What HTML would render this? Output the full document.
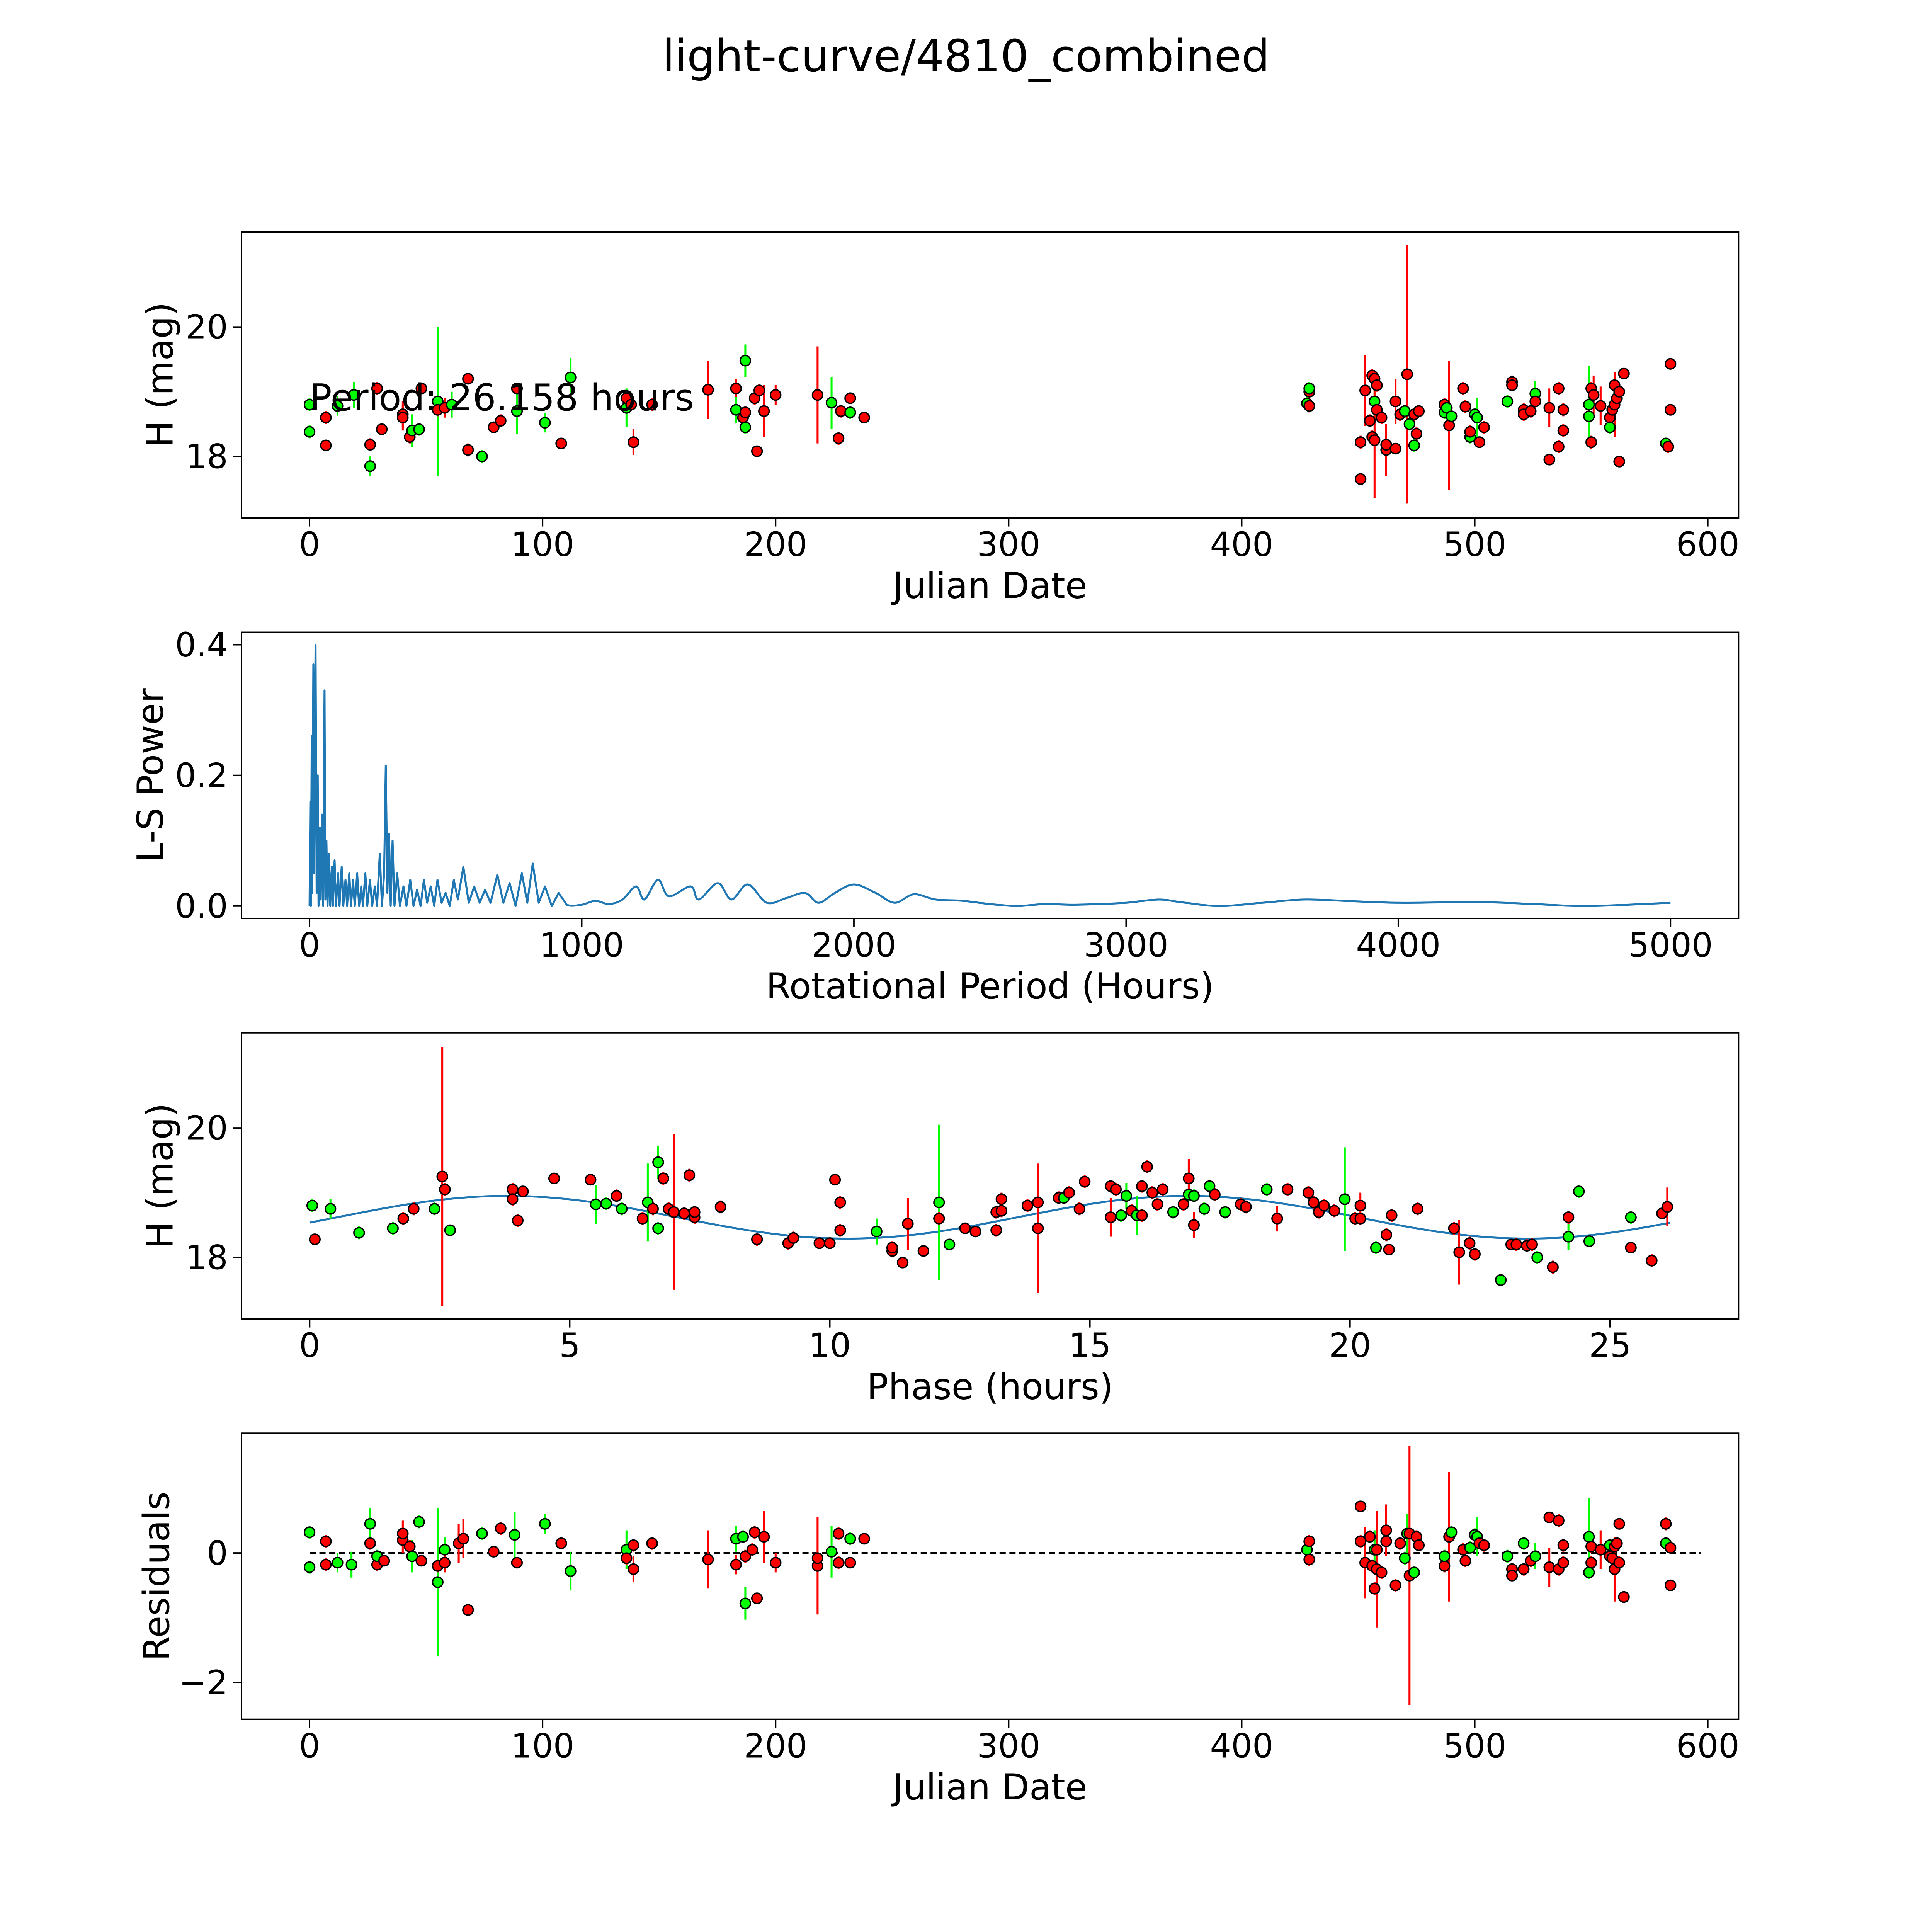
<!DOCTYPE html>
<html><head><meta charset="utf-8"><title>light-curve/4810_combined</title>
<style>html,body{margin:0;padding:0;background:#fff;overflow:hidden;width:100%;height:100%}svg{display:block;width:100vw;height:100vh}text{font-family:"DejaVu Sans","Liberation Sans",sans-serif;fill:#000}</style>
</head><body>
<svg id="fig" xmlns="http://www.w3.org/2000/svg" viewBox="0 0 1568 1568" preserveAspectRatio="xMidYMid meet">
<rect x="0" y="0" width="1568" height="1568" fill="#fff"/>
<text x="784" y="58" font-size="36" text-anchor="middle">light-curve/4810_combined</text>
</svg>
<script>
// ---------- Panel 1: light curve ----------
const lcJD=[0,0,7,7,12,19,26,26,29,31,40,40,43,44,47,48,55,55,58,61,68,68,74,79,82,89,89,101,108,112,136,136,138,139,147,171,183,183,186,187,187,187,191,192,193,195,200,218,224,227,228,232,232,238,
428,429,429,429,451,451,453,455,456,456,457,457,457,458,458,460,462,462,466,466,468,470,471,472,474,474,475,476,487,487,488,489,490,495,496,498,498,500,501,502,504,514,516,516,521,521,524,526,526,532,532,536,536,538,538,549,549,550,550,551,554,558,558,559,560,560,561,562,562,564,582,583,584,584];
const lcMag=[18.80,18.38,18.60,18.17,18.78,18.95,18.18,17.85,19.05,18.42,18.65,18.60,18.30,18.40,18.42,19.05,18.85,18.72,18.75,18.80,19.20,18.10,18.00,18.45,18.55,18.70,19.05,18.52,18.20,19.22,18.75,18.90,18.80,18.22,18.80,19.03,19.05,18.72,18.60,18.68,18.45,19.48,18.90,18.08,19.02,18.70,18.95,18.95,18.83,18.28,18.70,18.90,18.68,18.60,
18.82,19.00,19.05,18.78,17.65,18.22,19.02,18.55,18.30,19.25,18.85,18.25,19.20,19.10,18.72,18.60,18.10,18.18,18.12,18.85,18.65,18.70,19.27,18.50,18.17,18.65,18.35,18.70,18.68,18.80,18.75,18.48,18.62,19.05,18.77,18.30,18.38,18.65,18.60,18.22,18.45,18.85,19.15,19.10,18.72,18.65,18.70,18.97,18.85,17.95,18.75,19.05,18.15,18.72,18.40,18.80,18.62,19.05,18.22,18.95,18.78,18.60,18.45,18.72,18.80,19.10,18.90,19.00,17.92,19.28,18.20,18.15,19.43,18.72];
const lcErr=[.1,.1,.1,.05,.15,.2,.1,.15,.1,.06,.2,.2,.1,.25,.1,.05,1.15,.1,.15,.2,.05,.1,.1,.05,.1,.35,.05,.15,.05,.3,.3,.1,.1,.2,.1,.45,.15,.2,.15,.1,.1,.25,.1,.05,.1,.4,.15,.75,.4,.1,.1,.05,.1,.05,
.1,.1,.1,.1,.05,.1,.55,.1,.1,.1,.3,.9,.1,.1,.1,.1,.4,.05,.05,.35,.1,.1,2.0,.1,.1,.1,.1,.05,.1,.1,.1,1.0,.1,.1,.1,.1,.1,.1,.3,.05,.1,.1,.1,.05,.1,.1,.1,.2,.1,.05,.3,.1,.1,.1,.1,.6,.1,.1,.1,.3,.3,.1,.1,.1,.5,.1,.1,.1,.05,.05,.05,.1,.05,.05];
const lcBand="ggrrggrgrrrrrggrgrrgrrgrrgrgrggrrrrrrgrrggrrrrrrgrrrgr"+"grgrrrrrrrgrrrrrrrrrrgrggrrrgrgrgrrgrggrrgrrrrrgrrrrrrrggrrrrrgrrrrrrrgrrr";
const lcTicksX=[0,100,200,300,400,500,600];
const lcTicksY=[18,20];

// ---------- Panel 2: periodogram ----------
const pgPeriod=[0,3,5,8,10,14,17,22,26,30,33,38,41,46,50,55,58,62,66,72,76,82,86,92,97,105,110,118,124,132,138,146,152,160,166,175,182,190,196,205,212,222,230,240,248,258,266,274,280,286,292,298,305,312,322,332,345,356,370,382,395,408,420,432,445,458,470,485,500,515,530,545,565,585,605,625,645,665,690,712,735,757,780,800,820,842,865,890,915,945,
1000,1050,1100,1150,1200,1230,1280,1320,1400,1430,1500,1550,1610,1680,1750,1820,1870,1930,2000,2080,2150,2220,2300,2400,2500,2600,2700,2800,2900,3000,3120,3200,3340,3500,3650,3800,4000,4300,4500,4700,5000];
const pgPower=[0,.16,0,.26,.02,.37,.05,.40,.02,.2,0,.12,.01,.14,0,.33,.01,.1,0,.08,0,.06,0,.07,0,.05,0,.06,0,.04,0,.05,0,.04,0,.05,0,.03,0,.05,0,.04,0,.03,0,.08,0,.05,.215,.02,.11,0,.1,0,.05,0,.03,0,.04,0,.025,0,.04,.005,.03,0,.04,.005,.02,0,.04,.01,.06,.005,.03,.005,.025,.005,.048,.005,.035,0,.05,.005,.065,.005,.03,0,.02,.002,
.002,.008,.003,.01,.03,.01,.04,.015,.03,.01,.035,.01,.033,.005,.012,.02,.005,.02,.033,.02,.005,.018,.01,.008,.003,0,.003,.002,.003,.005,.01,.006,0,.005,.01,.008,.005,.006,.003,0,.005];
const pgTicksX=[0,1000,2000,3000,4000,5000];
const pgTicksY=[0.0,0.2,0.4];

// ---------- Panel 3: phased ----------
const phPhase=[0.05,0.1,0.4,0.95,1.6,1.8,2.0,2.4,2.55,2.6,2.7,3.9,3.9,4.0,4.1,4.7,5.4,5.5,5.7,5.9,6.0,6.4,6.5,6.6,6.7,6.7,6.8,6.9,7.0,7.2,7.3,7.4,7.4,7.9,8.6,9.2,9.3,9.8,10.0,10.1,10.2,10.2,10.9,11.2,11.2,11.4,11.5,11.8,12.1,12.1,12.3,12.6,12.8,13.2,13.2,13.3,13.3,13.8,14.0,14.0,14.4,14.5,14.6,14.8,14.9,15.4,15.4,15.5,15.6,15.7,15.8,15.9,16.0,16.0,16.1,16.2,16.3,16.4,16.6,16.8,16.9,16.9,17.0,17.0,17.2,17.3,17.4,17.6,17.9,18.0,18.4,18.6,18.8,19.2,19.3,19.4,19.5,19.7,19.9,20.1,20.2,20.2,20.5,20.7,20.75,20.8,21.3,22.0,22.1,22.3,22.4,22.9,23.1,23.2,23.4,23.5,23.6,23.9,24.2,24.2,24.4,24.6,25.4,25.4,25.8,26.0,26.1];
const phMag=[18.8,18.28,18.75,18.38,18.45,18.6,18.75,18.75,19.25,19.05,18.42,19.05,18.9,18.57,19.02,19.22,19.2,18.82,18.83,18.95,18.75,18.6,18.85,18.75,19.47,18.45,19.22,18.75,18.7,18.68,19.27,18.62,18.7,18.78,18.28,18.22,18.3,18.22,18.22,19.2,18.85,18.42,18.4,18.1,18.15,17.92,18.52,18.1,18.85,18.6,18.2,18.45,18.4,18.7,18.42,18.9,18.72,18.8,18.85,18.45,18.92,18.92,19.0,18.75,19.17,19.1,18.62,19.05,18.65,18.95,18.72,18.65,19.1,18.65,19.4,19.0,18.82,19.05,18.7,18.82,18.97,19.22,18.5,18.95,18.75,19.1,18.97,18.7,18.82,18.78,19.05,18.6,19.05,19.0,18.85,18.7,18.8,18.72,18.9,18.6,18.6,18.8,18.15,18.35,18.12,18.65,18.75,18.45,18.08,18.22,18.05,17.65,18.2,18.2,18.18,18.2,18.0,17.85,18.62,18.32,19.02,18.25,18.62,18.15,17.95,18.68,18.78];
const phErr=[.1,.05,.15,.1,.1,.1,.1,.1,2.0,.1,.05,.1,.1,.1,.05,.05,.05,.3,.1,.1,.1,.1,.6,.1,.25,.1,.1,.1,1.2,.1,.1,.1,.1,.1,.1,.1,.1,.05,.05,.05,.1,.1,.2,.1,.1,.05,.4,.05,1.2,.1,.05,.05,.05,.1,.1,.1,.1,.1,.1,1.0,.1,.1,.1,.1,.1,.1,.3,.1,.1,.2,.1,.3,.1,.1,.1,.1,.1,.1,.1,.1,.1,.3,.2,.1,.1,.1,.1,.1,.1,.1,.1,.2,.1,.1,.1,.1,.1,.1,.8,.1,.1,.2,.1,.1,.05,.1,.1,.1,.5,.1,.1,.05,.05,.1,.1,.1,.1,.1,.1,.2,.1,.05,.1,.05,.1,.05,.3,.1];
const phBand="grgggrrgrrgrrrrrrggrgrgrggrrrrrrrrrrrrrrrrgrrrrrgrgrrrrrrrrrrgrrrrrrggrgrrrrrrgrgrrgggrgrrgrrrrrrrgrrrgrrrrrrrrgrrrrgrrggggrrrrgrrr";
const phTicksX=[0,5,10,15,20,25];
const phTicksY=[18,20];
const fitPeriod=26.158;

// ---------- Panel 4: residuals ----------
const rsJD=[0,0,7,7,12,18,26,26,29,29,32,40,40,43,44,47,48,55,55,58,58,64,66,68,74,79,82,88,89,101,108,112,136,136,139,139,147,171,183,183,186,187,187,190,191,192,195,200,218,218,224,227,227,232,232,238,
428,429,429,451,451,453,455,456,457,457,458,458,460,462,462,466,468,470,471,472,472,474,475,476,487,487,489,490,495,496,498,500,501,502,504,514,516,516,521,521,524,526,532,532,536,536,538,538,549,549,550,550,554,558,558,559,560,560,561,562,562,564,582,582,584,584];
const rsVal=[0.32,-0.22,0.18,-0.18,-0.15,-0.18,0.45,0.15,-0.18,-0.05,-0.12,0.2,0.3,0.1,-0.05,0.48,-0.12,-0.45,-0.2,0.05,-0.15,0.15,0.22,-0.88,0.3,0.02,0.38,0.28,-0.15,0.45,0.15,-0.28,0.05,-0.08,-0.25,0.12,0.15,-0.1,0.22,-0.18,0.25,-0.05,-0.78,0.05,0.32,-0.7,0.25,-0.15,-0.2,-0.08,0.02,0.3,-0.15,0.22,-0.15,0.22,
0.05,0.18,-0.1,0.72,0.18,-0.15,0.25,-0.2,0.05,-0.55,-0.25,0.05,-0.3,0.35,0.18,-0.5,0.15,-0.08,0.3,-0.35,0.3,-0.3,0.25,0.12,-0.2,-0.05,0.25,0.32,0.05,-0.12,0.08,0.28,0.25,0.15,0.12,-0.05,-0.25,-0.35,-0.25,0.15,-0.12,-0.05,0.55,-0.22,-0.25,0.5,-0.15,0.12,0.25,-0.3,0.1,-0.15,0.05,-0.05,0.12,-0.08,-0.25,0.1,0.15,-0.15,0.45,-0.68,0.45,0.15,-0.5,0.08];
const rsErr=[.1,.1,.1,.1,.15,.2,.25,.1,.1,.1,.06,.2,.2,.1,.25,.1,.05,1.15,.1,.2,.15,.3,.3,.05,.1,.05,.1,.35,.05,.15,.05,.3,.3,.1,.2,.1,.1,.45,.2,.15,.1,.1,.25,.1,.1,.05,.4,.15,.75,.1,.4,.1,.1,.1,.05,.05,
.1,.1,.1,.05,.1,.55,.1,.1,.3,.1,.9,.1,.1,.4,.1,.1,.1,.1,.3,2.0,.1,.1,.1,.05,.1,.1,1.0,.1,.1,.1,.1,.1,.3,.05,.1,.1,.1,.05,.1,.1,.1,.2,.05,.3,.1,.1,.1,.1,.6,.1,.1,.1,.3,.1,.1,.1,.5,.1,.1,.1,.05,.05,.1,.05,.05,.05];
const rsBand="ggrrgggrrgrrrrggrgrgrrrrgrrgrgrggrrrrrgrgrgrrrrrrrgrrgrr"+"grrrrrrrgrrrrrrrrggrrgrrrgrgrrgggrrgrrrgrgrrrrrrggrrrrgrrrrrrrrgrr";
const rsTicksX=[0,100,200,300,400,500,600];
const rsTicksY=[-2,0];

const NS="http://www.w3.org/2000/svg";
const svg=document.getElementById('fig');
function mk(tag,attrs,parent){const e=document.createElementNS(NS,tag);for(const k in attrs)e.setAttribute(k,attrs[k]);(parent||svg).appendChild(e);return e;}
function axis(l,r,t,b,x0,x1,y0,y1){return {l,r,t,b,sx:v=>l+(v-x0)/(x1-x0)*(r-l),sy:v=>b-(v-y0)/(y1-y0)*(b-t)};}
const A1=axis(196,1411,188.2,420.3,-29.2,613.2,17.05,21.47);
const A2=axis(196,1411,513.2,745.4,-250,5250,-0.019,0.419);
const A3=axis(196,1411,838.2,1070.4,-1.31,27.47,17.05,21.47);
const A4=axis(196,1411,1163.2,1395.4,-29.2,613.2,-2.57,1.85);
const COL={g:'#00ff00',r:'#ff0000'};
function fmt(v,d){const s=v.toFixed(d);return v<0?'\u2212'+s.slice(1):s;}

function frame(A,name,xt,yt,xd,yd,xlab,ylab,ylx){
  const g=mk('g',{});
  
  
  xt.forEach(v=>{const x=A.sx(v);
    const tk=mk('line',{x1:x,x2:x,y1:A.b,y2:A.b+7,stroke:'#000','stroke-width':1.2},g);
    
    
    const tl=mk('text',{x:x,y:A.b+31,'font-size':27,'text-anchor':'middle'},g);tl.textContent=fmt(v,xd);
    
    });
  yt.forEach(v=>{const y=A.sy(v);
    const tk=mk('line',{x1:A.l-7,x2:A.l,y1:y,y2:y,stroke:'#000','stroke-width':1.2},g);
    
    
    const tl=mk('text',{x:A.l-11,y:y+9.5,'font-size':27,'text-anchor':'end'},g);tl.textContent=fmt(v,yd);
    
    });
  const xl=mk('text',{x:(A.l+A.r)/2,y:A.b+65,'font-size':29,'text-anchor':'middle'},g);xl.textContent=xlab;
  
  
  const cy=(A.t+A.b)/2;
  const yl=mk('text',{x:ylx,y:cy,'font-size':29,'text-anchor':'middle',transform:'rotate(-90 '+ylx+' '+cy+')'},g);yl.textContent=ylab;
  
  
}
function box(A,name){const r=mk('rect',{x:A.l,y:A.t,width:A.r-A.l,height:A.b-A.t,fill:'none',stroke:'#000','stroke-width':1.2});
  
  }
function points(A,name,xs,ys,es,bands){
  const g=mk('g',{});
  
  
  for(let i=0;i<xs.length;i++){const c=COL[bands[i]]||'#ff0000';const x=A.sx(xs[i]);
    const eb=mk('line',{x1:x,x2:x,y1:A.sy(ys[i]-es[i]),y2:A.sy(ys[i]+es[i]),stroke:c,'stroke-width':1.6},g);
    
    }
  for(let i=0;i<xs.length;i++){const c=COL[bands[i]]||'#ff0000';
    const p=mk('circle',{cx:A.sx(xs[i]),cy:A.sy(ys[i]),r:4.2,fill:c,stroke:'#000','stroke-width':1.1},g);
    
    }
}

// Panel 1
frame(A1,'light-curve',lcTicksX,lcTicksY,0,0,'Julian Date','H (mag)',140);
points(A1,'light-curve',lcJD,lcMag,lcErr,lcBand);
const pt=mk('text',{x:A1.sx(0),y:333,'font-size':30});pt.textContent='Period: 26.158 hours';


box(A1,'light-curve');

// Panel 2
frame(A2,'periodogram',pgTicksX,pgTicksY,0,1,'Rotational Period (Hours)','L-S Power',132);
let d='';
const P=pgPeriod.map((v,i)=>[A2.sx(v),A2.sy(pgPower[i])]);
for(let i=0;i<P.length;i++){
  if(i===0){d+='M'+P[0][0].toFixed(2)+' '+P[0][1].toFixed(2);continue;}
  if(pgPeriod[i-1]<945){d+='L'+P[i][0].toFixed(2)+' '+P[i][1].toFixed(2);continue;}
  const p0=P[i-2]||P[i-1],p1=P[i-1],p2=P[i],p3=P[i+1]||P[i];
  const c1x=p1[0]+(p2[0]-p0[0])/6,c1y=p1[1]+(p2[1]-p0[1])/6,c2x=p2[0]-(p3[0]-p1[0])/6,c2y=p2[1]-(p3[1]-p1[1])/6;
  d+='C'+c1x.toFixed(2)+' '+c1y.toFixed(2)+' '+c2x.toFixed(2)+' '+c2y.toFixed(2)+' '+p2[0].toFixed(2)+' '+p2[1].toFixed(2);
}
const pl=mk('path',{d:d,fill:'none',stroke:'#1f77b4','stroke-width':1.6,'stroke-linejoin':'round'});


box(A2,'periodogram');

// Panel 3
frame(A3,'phased',phTicksX,phTicksY,0,0,'Phase (hours)','H (mag)',140);
let dc='';for(let i=0;i<=300;i++){const p=fitPeriod*i/300;const m=18.62+0.33*Math.cos(2*Math.PI*(p-3.8)/(fitPeriod/2));dc+=(i?'L':'M')+A3.sx(p).toFixed(2)+' '+A3.sy(m).toFixed(2);}
const fc=mk('path',{d:dc,fill:'none',stroke:'#1f77b4','stroke-width':1.6});


points(A3,'phased',phPhase,phMag,phErr,phBand);
box(A3,'phased');

// Panel 4
frame(A4,'residuals',rsTicksX,rsTicksY,0,0,'Julian Date','Residuals',137);
const zl=mk('line',{x1:A4.sx(0),x2:A4.sx(597),y1:A4.sy(0),y2:A4.sy(0),stroke:'#000','stroke-width':1.3,'stroke-dasharray':'5 3'});


points(A4,'residuals',rsJD,rsVal,rsErr,rsBand);
box(A4,'residuals');
</script>
</body></html>
